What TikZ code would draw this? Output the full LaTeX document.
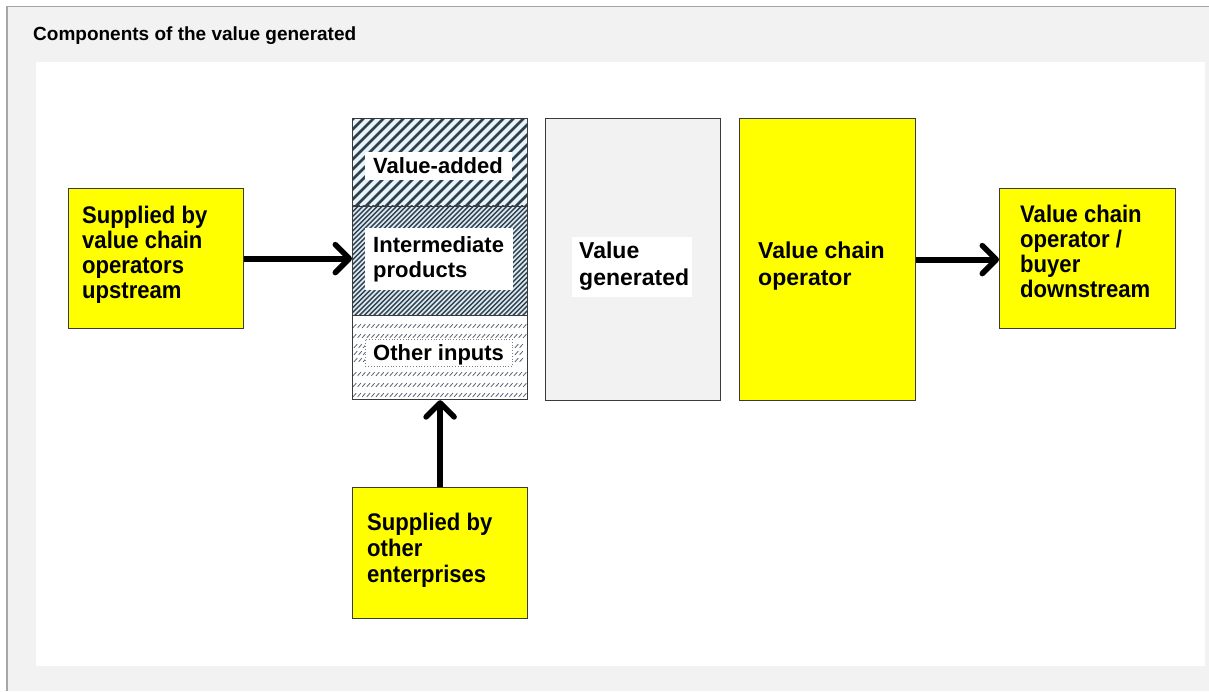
\documentclass[tikz,border=0pt]{standalone}
\usepackage{fontspec}
\setmainfont{Liberation Sans}
\newfontfamily\ytall[FakeStretch=0.92]{Liberation Sans}
\usetikzlibrary{arrows.meta}
\definecolor{pagegray}{HTML}{F2F2F2}
\definecolor{framegray}{HTML}{A6A6A6}
\definecolor{boxline}{HTML}{3A3A3A}
\definecolor{yel}{HTML}{FFFF00}
\definecolor{hatch}{HTML}{2E3F50}
\definecolor{vabg}{HTML}{E8F4F8}
\definecolor{ipbg}{HTML}{DCEAF0}
\lineskiplimit=-50pt\relax
\tikzset{
  box/.style={draw=boxline, line width=1.2pt, inner sep=0pt, anchor=north west},
  ybox/.style={box, fill=yel},
  ytxt/.style={inner sep=0pt, anchor=north west, align=left,
     font=\ytall\bfseries\fontsize{24}{25}\selectfont},
  ntxt/.style={inner sep=0pt, align=left,
     font=\bfseries\fontsize{22}{25}\selectfont},
  mtxt/.style={inner sep=0pt, anchor=north west, align=left,
     font=\bfseries\fontsize{23}{27}\selectfont},
  arr/.style={line width=6pt, black, -{Straight Barb[length=14pt,width=28pt,line width=5.5pt,round]}},
  wbox/.style={fill=white, draw=none, inner sep=0pt, anchor=north west}
}
\begin{document}
\begin{tikzpicture}[x=1pt,y=-1pt]
\lineskiplimit=-50pt\relax
\useasboundingbox (0,0) rectangle (1209,691);
\fill[white] (0,0) rectangle (1209,691);
\fill[pagegray] (7,6) rectangle (1209,691);
\draw[framegray, line width=1.5pt] (7,691) -- (7,6.5) -- (1209,6.5);
\node[inner sep=0pt, anchor=base west, font=\bfseries\fontsize{19}{22}\selectfont] (title) at (33,40) {Components of the value generated};
\fill[white] (36,62) rectangle (1205,666);

% stacked box regions
\node[box, draw=none, fill=vabg, minimum width=175pt, minimum height=87pt] (va) at (352,118) {};
\node[box, draw=none, fill=ipbg, minimum width=175pt, minimum height=109pt] (ip) at (352,205) {};
\node[box, draw=none, fill=white, minimum width=175pt, minimum height=85pt] (oi) at (352,314) {};
\begin{scope}
  \clip (352,118) rectangle (527,205);
  \foreach \i in {0,10,...,280} \draw[hatch, line width=2.6pt] ({352+\i-100},210) -- ++(100,-100);
\end{scope}
\begin{scope}
  \clip (352,205) rectangle (527,314);
  \foreach \i in {0,4.8,...,300} \draw[hatch, line width=1.4pt] ({352+\i-120},318) -- ++(120,-120);
\end{scope}
\begin{scope}
  \clip (352,314) rectangle (527,399);
  \foreach \r in {326,336,374,385,395}
    \foreach \i in {0,4.6,...,176} \draw[hatch!80, line width=0.8pt] ({353+\i},{\r+1.8}) -- ++(3.2,-3.6);
  \foreach \r in {346,353,360}
    \foreach \i in {0,4.6,9.2} \draw[hatch!80, line width=0.8pt] ({354+\i},{\r+1.8}) -- ++(3.2,-3.6);
  \foreach \r in {346,353,360}
    \foreach \i in {0,4.6} \draw[hatch!80, line width=0.8pt] ({515+\i},{\r+1.8}) -- ++(3.2,-3.6);
\end{scope}
\node[wbox, minimum width=147pt, minimum height=28pt] (vaw) at (365,152) {};
\node[wbox, minimum width=148pt, minimum height=62pt] (ipw) at (365,228) {};
\node[wbox, draw=gray, dotted, line width=0.8pt, minimum width=147pt, minimum height=27pt] (oiw) at (365,339) {};
\node[box, draw=boxline, fill=none, minimum width=175pt, minimum height=281pt] (stack) at (352,118) {};
\draw[boxline, line width=1.2pt] (va.south west) -- (va.south east);
\draw[boxline, line width=1.2pt] (ip.south west) -- (ip.south east);
\node[ntxt, anchor=base west] (vat) at (373,173) {Value-added};
\node[ntxt, anchor=north west] (ipt) at (373,236) {Intermediate\\products};
\node[ntxt, anchor=base west] (oit) at (373,360) {Other inputs};

% value generated
\node[box, fill=pagegray, minimum width=175pt, minimum height=282pt] (vg) at (545,118) {};
\node[wbox, minimum width=120pt, minimum height=60pt] (vgw) at (572,237) {};
\node[mtxt] (vgt) at (579,241.5) {Value\\generated};

% value chain operator
\node[ybox, minimum width=176pt, minimum height=282pt] (vco) at (739,118) {};
\node[mtxt] (vcot) at (758,241.5) {Value chain\\operator};

% yellow boxes
\node[ybox, minimum width=175pt, minimum height=140pt] (up) at (68,188) {};
\node[ytxt] (upt) at (82,205.8) {Supplied by\\value chain\\operators\\upstream};
\node[ybox, minimum width=176pt, minimum height=140pt] (down) at (999,188) {};
\node[ytxt] (downt) at (1020,204.8) {Value chain\\operator /\\buyer\\downstream};
\node[ybox, minimum width=175pt, minimum height=131pt] (other) at (352,487) {};
\node[ytxt, font=\ytall\bfseries\fontsize{24}{26}\selectfont] (othert) at (367,513) {Supplied by\\other\\enterprises};

% arrows
\draw[arr] (up.east) -- (up.east -| stack.west);
\draw[arr] (vco.east) -- (vco.east -| down.west);
\draw[arr] (other.north) -- (other.north |- stack.south);
\end{tikzpicture}
\end{document}
